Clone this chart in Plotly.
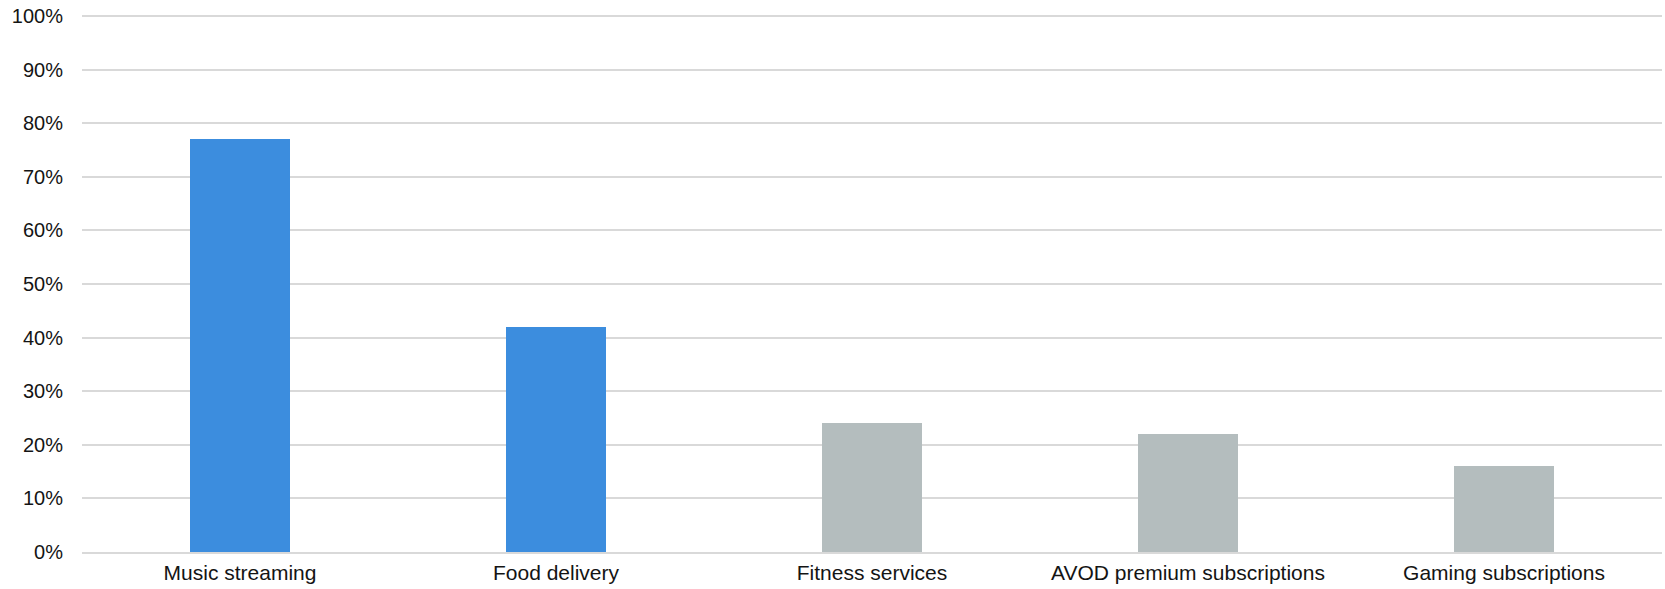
import plotly.graph_objects as go

# Share of respondents by service category
categories = ["Music streaming", "Food delivery", "Fitness services",
              "AVOD premium subscriptions", "Gaming subscriptions"]
values = [0.77, 0.42, 0.24, 0.22, 0.16]
highlight = [True, True, False, False, False]

BLUE = "#3C8DDE"
GREY = "#B4BDBE"
bar_colors = [BLUE if h else GREY for h in highlight]

fig = go.Figure(
    go.Bar(
        x=categories,
        y=values,
        marker=dict(color=bar_colors, line=dict(width=0)),
        width=0.316,
        hoverinfo="x+y",
    )
)

fig.update_layout(
    width=1665,
    height=589,
    margin=dict(l=82, r=3, t=15, b=37),
    paper_bgcolor="white",
    plot_bgcolor="white",
    showlegend=False,
    font=dict(family="Liberation Sans, Arial, sans-serif", size=20, color="#141414"),
    bargap=0,
)

fig.update_xaxes(
    showgrid=False,
    showline=True,
    linecolor="#D9D9D9",
    linewidth=2,
    ticks="",
    tickfont=dict(size=21),
    ticklabelstandoff=1,
)

fig.update_yaxes(
    range=[0, 1.002],
    tickvals=[i / 10 for i in range(11)],
    tickformat=".0%",
    showgrid=True,
    gridcolor="#D9D9D9",
    gridwidth=2,
    zeroline=False,
    ticks="",
    ticklabelstandoff=18,
    tickfont=dict(size=20),
)

fig.write_html("out.html")
